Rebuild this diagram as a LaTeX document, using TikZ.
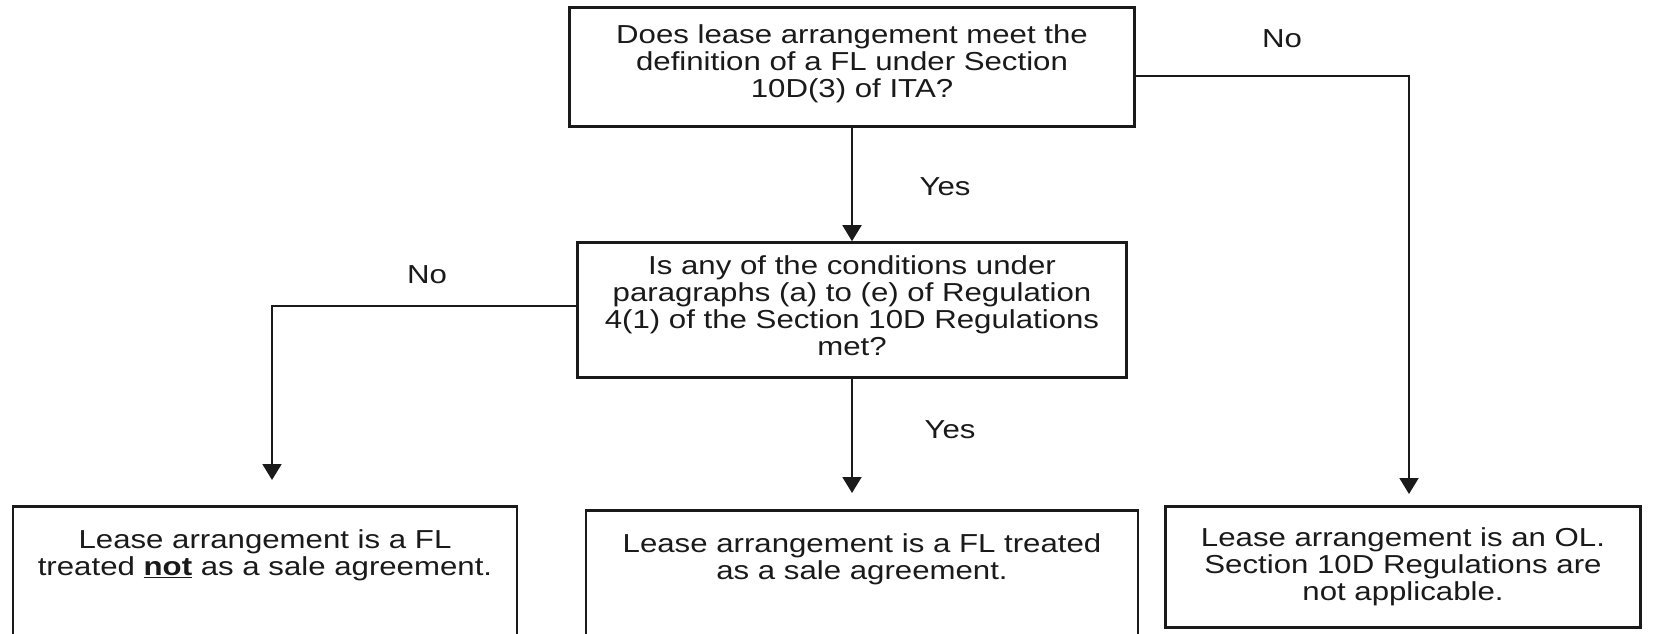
\documentclass[tikz,border=0pt]{standalone}
\usepackage{fontspec}
\setmainfont[FakeStretch=1.2]{Liberation Sans}
\usetikzlibrary{arrows.meta}
\definecolor{ink}{HTML}{1A1A1A}
\begin{document}
\begin{tikzpicture}[x=1pt,y=-1pt,
  txt/.style={font=\fontsize{26}{27}\selectfont, text=ink},
  boxn/.style={txt, draw=ink, line width=2.6pt, align=center, inner sep=0pt},
  conn/.style={draw=ink, line width=1.9pt},
  arr/.style={conn, -{Triangle[width=19pt,length=16pt]}},
  lbl/.style={txt, inner sep=0pt}]
\useasboundingbox (0,0) rectangle (1655,634);
\fill[white] (0,0) rectangle (1655,634);

\node[boxn, minimum width=565pt, minimum height=119pt] (b1) at (852,67)
  {Does lease arrangement meet the\\definition of a FL under Section\\10D(3) of ITA?\rule[-12pt]{0pt}{0pt}};
\node[boxn, minimum width=549pt, minimum height=135pt] (b2) at (852,310)
  {Is any of the conditions under\\paragraphs (a) to (e) of Regulation\\4(1) of the Section 10D Regulations\\met?\rule[-8pt]{0pt}{0pt}};
\node[boxn, minimum width=504pt, anchor=north, inner ysep=23pt] (b3) at (265,505)
  {Lease arrangement is a FL\\treated \underline{\textbf{not}} as a sale agreement.\rule[-80pt]{0pt}{0pt}};
\node[boxn, minimum width=552pt, anchor=north, inner ysep=23pt] (b4) at (862,509)
  {Lease arrangement is a FL treated\\as a sale agreement.\rule[-80pt]{0pt}{0pt}};
\node[boxn, minimum width=475pt, minimum height=121pt] (b5) at (1403,567)
  {Lease arrangement is an OL.\\Section 10D Regulations are\\not applicable.\rule[-6pt]{0pt}{0pt}};

\coordinate (t5) at (1409,494);
\coordinate (t3) at (272,480);
\coordinate (t4) at (852,493);

\draw[arr] ([yshift=-9pt]b1.east) -| (t5);
\draw[arr] (b1.south) -- (b2.north);
\draw[arr] ([yshift=4pt]b2.west) -| (t3);
\draw[arr] (b2.south) -- (t4);

\node[lbl] (no1) at (1282,39) {No};
\node[lbl] (yes1) at (945,187) {Yes};
\node[lbl] (no2) at (427,275) {No};
\node[lbl] (yes2) at (950,430) {Yes};
\end{tikzpicture}
\end{document}
